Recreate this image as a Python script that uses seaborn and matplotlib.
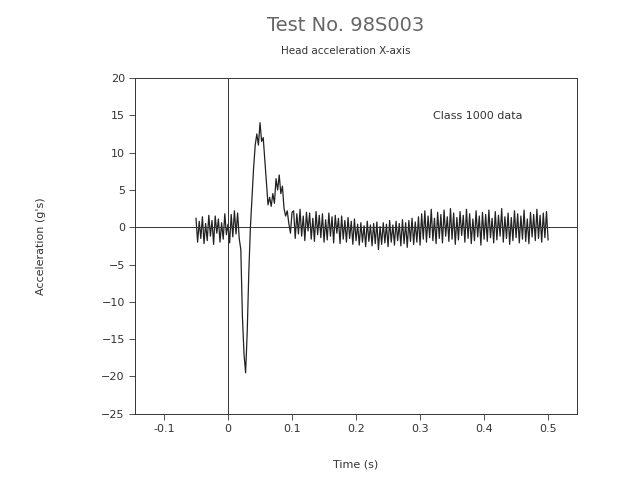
import numpy as np
import pandas as pd
import matplotlib
matplotlib.use("Agg")
import matplotlib.pyplot as plt
import seaborn as sns

t_start = -0.05
dt = 0.0025
pre = [1.2,-2.0,0.8,-1.5,1.4,-2.2,0.5,-1.8,1.6,-1.2,0.9,-2.3,1.5,-0.8,1.1,-2.0,0.6,-1.6,1.8,-1.0,0.4,-2.1,1.7,-1.3,2.2,-0.9,1.9,-1.5]
pulse = [-3,-12,-17,-19.5,-14,-6,0,4,8,11,12.5,11,14,11.5,12,9,6,3,4,2.8,4.5,3.2,6.5,5,7,4.5,5.5,2.5,1.5,2.2,0.5,-0.8,2.0]
mid = [2.2,-1.5,1.8,-0.9,2.4,-1.2,1.5,-1.8,2.0,-0.5,1.9,-1.6,1.2,-1.9,2.1,-1.0,1.6,-1.4,1.8,-2.0,
       1.0,-1.7,1.9,-1.2,1.4,-2.1,1.6,-0.8,1.2,-2.2,1.5,-1.6,0.9,-2.0,1.3,-1.5,0.8,-2.3,1.1,-1.8]
low = [0.4,-2.4,0.6,-2.0,0.2,-2.6,0.8,-1.9,0.3,-2.5,0.5,-2.2,0.7,-3.0,0.1,-2.3,0.6,-2.1,0.4,-2.6,
       0.9,-2.0,0.3,-2.4,0.8,-1.8,0.5,-2.5,1.0,-2.2,0.6,-2.7,0.9,-1.9,1.2,-2.3,0.7,-2.0,1.4,-2.4]
late = [1.8,-1.6,2.2,-2.0,1.5,-1.4,2.4,-1.8,1.2,-2.2,2.0,-1.5,1.7,-2.1,2.3,-1.2,1.4,-1.9,2.5,-1.6,
        1.9,-2.3,1.3,-1.7,2.1,-1.1,1.6,-2.0,2.4,-1.5,1.8,-2.2,1.1,-1.8,2.2,-1.3,1.5,-2.4,2.0,-1.6,
        1.7,-1.9,2.3,-1.4,1.2,-2.1,2.1,-1.7,1.6,-1.2,2.5,-2.0,1.4,-1.5,1.9,-2.3,1.3,-1.8,2.2,-1.4,
        1.8,-2.1,1.5,-1.6,2.3,-1.9,1.1,-2.2,2.0,-1.3,1.7,-1.8,2.4,-1.5,1.6,-2.0,1.9,-1.4,2.1,-1.7]
accel = pre + pulse + mid + low + late
time = t_start + dt * np.arange(len(accel))
df = pd.DataFrame({"time": time, "accel": accel})

fig = plt.figure(figsize=(6.23, 4.84), dpi=100)
ax = fig.add_axes([0.217, 0.145, 0.709, 0.694])
sns.lineplot(data=df, x="time", y="accel", ax=ax, color="#222222", linewidth=0.9)
ax.axhline(0, color="#333333", linewidth=0.7)
ax.axvline(0, color="#333333", linewidth=0.7)
ax.set_xlim(-0.145, 0.545)
ax.set_ylim(-25, 20)
ax.set_xticks([-0.1, 0, 0.1, 0.2, 0.3, 0.4, 0.5])
ax.set_xticklabels(["-0.1", "0", "0.1", "0.2", "0.3", "0.4", "0.5"])
ax.set_yticks(range(-25, 21, 5))
ax.tick_params(labelsize=8, colors="#333333", direction="out", length=4, width=0.6)
for s in ax.spines.values():
    s.set_linewidth(0.7)
    s.set_color("#333333")
ax.set_xlabel("Time (s)", fontsize=8, color="#333333", labelpad=18)
ax.set_ylabel("Acceleration (g's)", fontsize=8, color="#333333", labelpad=40)
ax.text(0.32, 14.5, "Class 1000 data", fontsize=8, color="#333333")
fig.text(0.555, 0.935, "Test No. 98S003", fontsize=14, color="#666666", ha="center")
fig.text(0.555, 0.888, "Head acceleration X-axis", fontsize=7.5, color="#333333", ha="center")
fig.savefig("out.png", dpi=100)
